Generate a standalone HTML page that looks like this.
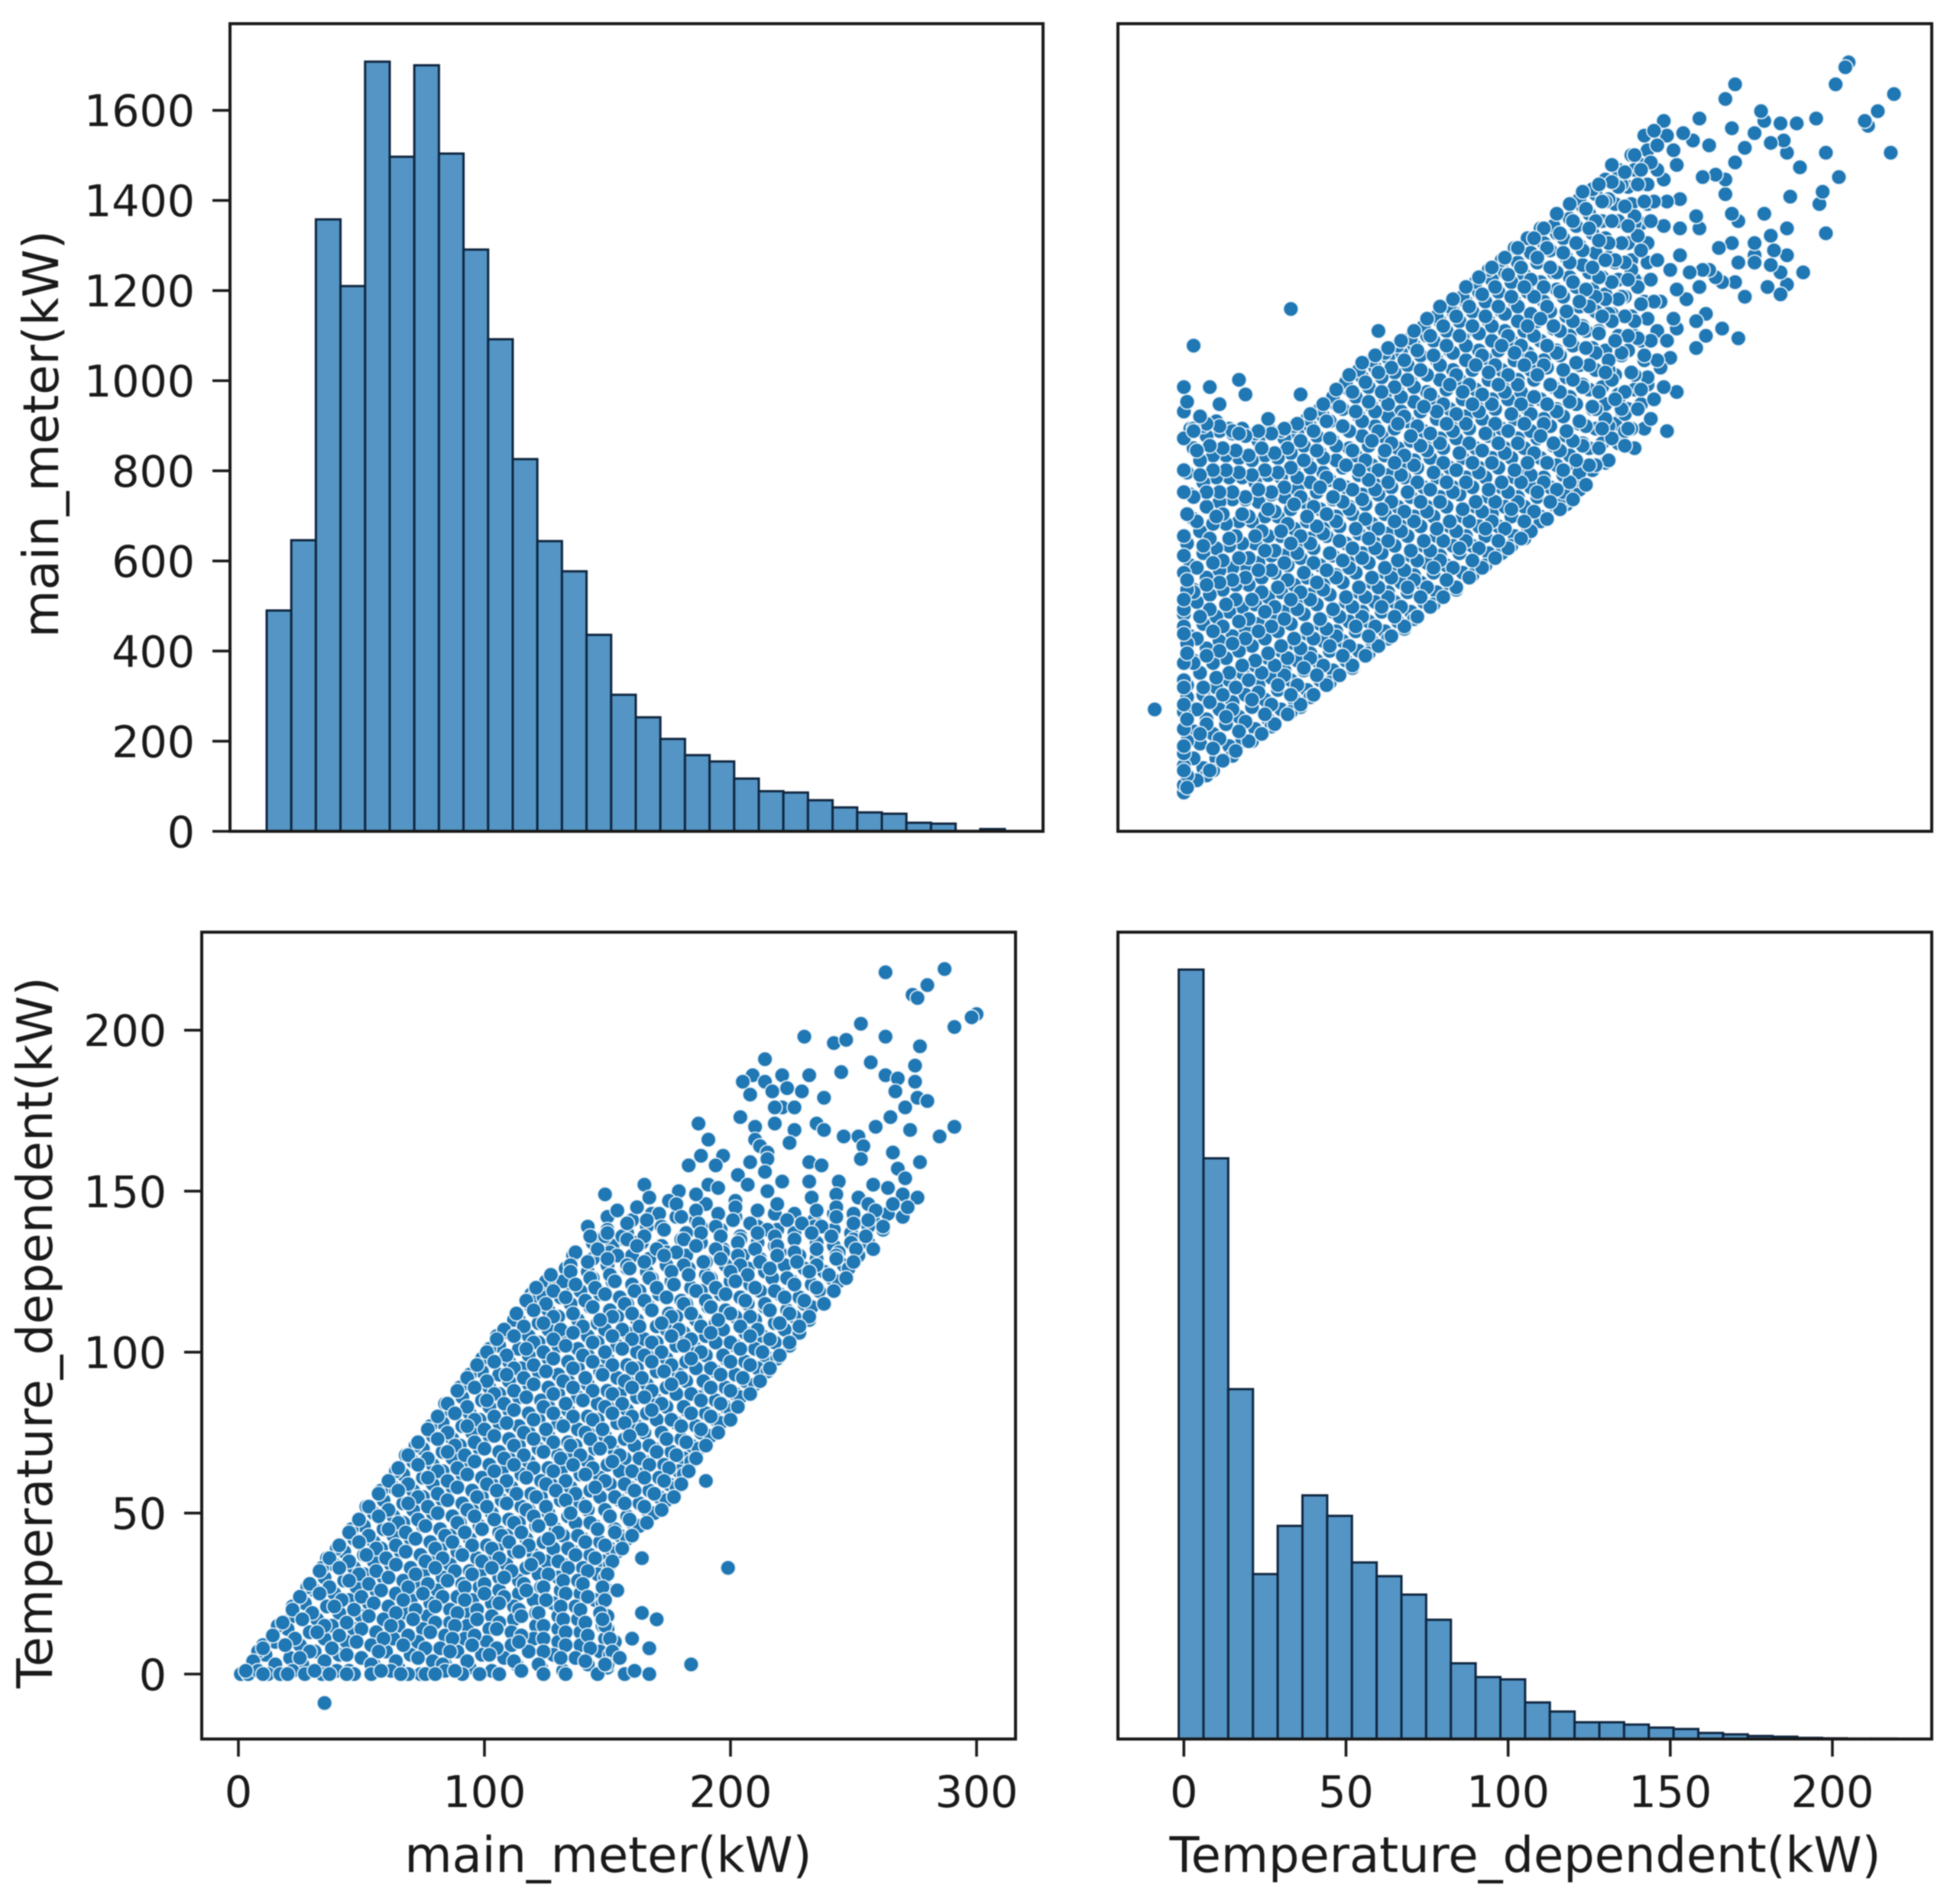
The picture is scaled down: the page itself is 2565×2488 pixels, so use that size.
<!DOCTYPE html>
<html lang="en">
<head>
<meta charset="utf-8">
<title>Pair plot of main_meter and Temperature_dependent</title>
<style>
  html, body { margin: 0; padding: 0; background: #fff; }
  #chart { display: block; width: 2565px; height: 2488px; filter: blur(0.7px); }
  text { font-family: "DejaVu Sans", "Liberation Sans", sans-serif; fill: #1a1a1a; }
</style>
</head>
<body>
<svg id="chart" xmlns="http://www.w3.org/2000/svg" width="2565" height="2488" viewBox="0 0 2565 2488"></svg>
<script>
// Histogram of main_meter(kW)
const mainBinStart = 0;
const mainBinWidth = 10;
const mainCounts = [490,646,1358,1210,1708,1497,1700,1504,1291,1092,826,644,577,436,303,253,205,169,155,117,89,86,69,53,42,39,19,17,1,5];

// Histogram of Temperature_dependent(kW); the y axis is unlabelled, so the count scale is estimated
const tempBinStart = -1.58;
const tempBinWidth = 7.63;
const tempCounts = [3303,2493,1502,708,915,1046,958,758,699,620,512,325,266,256,157,118,72,72,62,49,43,26,20,13,10,5,3,2,2,1];

// Tick labels
const mainTicks = [0,100,200,300];
const tempTicks = [0,50,100,150,200];
const tempTicksY = [0,50,100,150,200];
const countTicks = [0,200,400,600,800,1000,1200,1400,1600];

// Scatter readings: each index is one (main_meter, Temperature_dependent) observation, both in kW
const mainMeter = [
150,160,168,178,186,195,202,210,218,226,234,242,250,258,264,270,
150,158,166,173,182,188,196,204,211,219,226,234,242,249,256,262,
144,152,157,164,172,180,188,197,204,211,218,226,235,242,250,256,
136,144,151,160,167,174,182,190,197,205,212,220,228,235,244,252,
133,142,150,158,166,174,183,190,198,207,214,222,230,238,246,248,
125,135,144,152,160,168,176,184,192,200,208,217,225,233,241,244,
123,131,139,147,155,163,171,180,188,196,204,212,220,228,236,119,
119,126,135,143,151,158,167,175,182,191,198,207,214,223,230,233,
114,122,130,138,146,154,162,170,178,186,194,202,210,218,226,232,
110,118,126,133,142,149,158,165,174,181,190,197,206,213,222,228,
106,114,122,130,138,146,154,162,170,178,186,194,202,210,218,224,
102,110,118,126,134,142,150,158,166,174,182,190,198,206,214,219,
99,106,115,122,130,138,147,154,162,170,179,186,194,202,211,215,
94,102,110,118,126,134,142,150,158,166,174,182,190,198,206,210,
91,99,106,114,123,130,138,146,155,162,170,178,187,194,202,204,
86,94,102,110,118,126,134,142,150,158,166,174,182,190,198,200,
83,91,98,106,114,122,130,138,146,154,162,170,178,186,194,196,
79,87,95,102,110,118,126,134,142,149,157,165,173,180,188,192,
75,83,90,98,106,114,122,130,137,145,153,161,169,176,184,187,
71,79,87,94,102,110,118,126,134,142,150,157,165,173,181,184,
67,75,83,91,99,107,115,123,131,139,147,155,163,171,179,181,
63,71,79,87,95,103,111,119,127,135,143,151,159,167,175,178,
59,67,75,83,91,99,107,115,123,131,139,147,155,163,171,174,
55,63,71,79,87,95,103,110,118,126,134,142,150,158,166,169,
51,59,67,75,82,90,98,106,114,121,129,137,145,153,160,163,
47,55,63,70,78,86,94,101,109,117,124,132,140,147,155,158,
43,51,58,66,74,82,89,97,105,112,120,128,136,143,151,154,
39,47,55,62,70,78,86,94,101,109,117,125,132,140,148,151,
35,43,51,59,67,75,83,91,98,106,114,122,130,138,146,149,
31,39,48,56,64,73,81,89,98,106,114,123,131,139,148,150,
27,36,45,53,61,70,78,86,95,103,112,120,128,137,145,148,
22,32,41,50,59,68,77,86,94,103,112,121,130,138,147,150,
20,29,38,47,56,65,75,84,93,102,111,121,130,139,148,150,
15,25,35,44,54,63,73,82,92,101,111,120,130,139,149,153,
11,21,31,41,50,60,70,79,89,99,108,118,128,137,147,151,
7,16,26,36,45,55,65,74,84,94,103,113,123,132,142,150,
263,287,274,280,276,300,298,291,253,263,230,242,247,277,214,257,
245,275,232,221,209,205,263,268,275,214,223,208,217,229,238,267,
276,280,271,221,226,218,265,204,187,218,210,235,238,259,273,291,
285,226,246,252,210,191,212,224,215,254,266,197,188,208,215,232,
237,253,277,183,194,214,268,203,221,207,232,244,271,165,191,195,
179,258,264,233,243,270,276,149,202,190,252,256,167,175,186,215,
120,124,112,105,129,132,137,142,149,156,162,99,84,68,52,36,
10,16,22,28,34,40,46,58,64,72,78,90,94,102,108,8,
154,162,171,178,186,195,202,211,219,226,235,243,250,259,266,272,
158,166,172,180,187,194,201,208,215,223,229,237,243,250,256,262,
143,150,158,165,173,181,188,196,203,211,218,226,233,241,249,255,
137,146,154,162,170,178,186,194,203,210,219,226,235,243,251,258,
135,142,150,158,165,173,181,189,196,204,212,219,227,235,243,250,
127,135,143,151,159,167,176,183,191,200,207,216,223,232,240,247,
121,128,137,145,153,161,170,177,186,194,202,210,218,226,235,242,
117,125,133,141,149,157,165,174,181,190,198,206,214,222,230,238,
113,120,128,136,144,152,160,168,176,184,192,200,208,216,224,232,
108,116,124,131,140,147,156,163,172,179,188,195,204,211,220,228,
105,112,120,128,136,144,152,160,168,176,184,192,200,208,216,224,
101,109,117,124,133,140,149,156,165,172,181,188,197,204,213,220,
97,104,112,120,128,136,144,152,160,168,176,184,192,200,208,216,
93,101,109,116,125,132,141,148,157,164,173,180,189,196,205,212,
89,96,104,112,120,128,136,144,152,160,168,176,184,192,200,208,
85,93,101,108,117,124,133,140,149,156,165,172,181,188,196,203,
81,88,96,104,112,120,128,136,144,152,160,168,176,184,192,200,
77,85,93,100,109,116,125,132,141,148,157,164,172,180,188,195,
73,81,88,96,104,112,120,128,135,143,151,159,167,174,182,190,
69,77,85,92,100,108,116,124,131,139,147,155,163,170,178,186,
65,73,81,89,96,104,112,120,128,136,144,152,160,167,175,183,
61,69,77,85,93,101,109,117,125,133,141,149,157,165,173,180,
57,65,73,81,89,97,105,113,121,129,137,145,153,161,169,177,
53,61,69,77,85,93,101,109,117,125,133,141,149,157,165,172,
49,57,65,73,81,89,96,104,112,120,127,135,143,151,159,166,
45,53,61,68,76,84,92,99,107,115,122,130,138,146,153,160,
41,49,56,64,72,80,87,95,103,110,118,126,134,141,149,156,
37,45,52,60,68,76,83,91,99,106,114,122,130,137,145,152,
33,41,49,56,64,72,80,88,95,103,111,119,126,134,142,150,
29,37,45,53,61,69,77,85,92,100,108,116,124,132,140,148,
25,33,42,50,58,67,75,83,92,100,108,117,125,133,142,149,
22,30,39,47,55,64,72,80,89,97,106,114,122,131,139,147,
18,26,35,44,53,62,71,80,88,97,106,115,124,132,141,149,
14,23,32,41,50,59,69,78,87,96,105,115,124,133,142,151,
10,19,29,38,48,57,67,76,86,95,105,114,124,133,143,152,
6,15,25,35,44,54,64,73,83,93,102,112,122,131,141,150,
1,4,8,12,17,22,27,34,40,47,54,62,69,76,84,91,
3,10,20,31,37,44,58,66,80,88,98,106,115,124,133,146,
157,161,167,170,155,160,167,164,148,149,184,199,154,164,190,35
];
const temperatureDependent = [
142,141,143,142,141,143,142,140,143,142,141,143,142,141,143,142,
138,137,139,138,137,139,138,136,139,138,137,139,138,137,139,138,
134,133,135,134,133,135,134,132,135,134,133,135,134,133,135,134,
130,129,131,130,129,131,130,128,131,130,129,131,130,129,131,130,
126,125,127,126,125,127,126,124,127,126,125,127,126,125,127,126,
122,121,123,122,121,123,122,120,123,122,121,123,122,121,123,122,
118,117,119,118,117,119,118,116,119,118,117,119,118,117,119,118,
114,113,115,114,113,115,114,112,115,114,113,115,114,113,115,114,
110,109,111,110,109,111,110,108,111,110,109,111,110,109,111,110,
106,105,107,106,105,107,106,104,107,106,105,107,106,105,107,106,
102,101,103,102,101,103,102,100,103,102,101,103,102,101,103,102,
98,97,99,98,97,99,98,96,99,98,97,99,98,97,99,98,
94,93,95,94,93,95,94,92,95,94,93,95,94,93,95,94,
90,89,91,90,89,91,90,88,91,90,89,91,90,89,91,90,
86,85,87,86,85,87,86,84,87,86,85,87,86,85,87,86,
82,81,83,82,81,83,82,80,83,82,81,83,82,81,83,82,
78,77,79,78,77,79,78,76,79,78,77,79,78,77,79,78,
74,73,75,74,73,75,74,72,75,74,73,75,74,73,75,74,
70,69,71,70,69,71,70,68,71,70,69,71,70,69,71,70,
66,65,67,66,65,67,66,64,67,66,65,67,66,65,67,66,
62,61,63,62,61,63,62,60,63,62,61,63,62,61,63,62,
58,57,59,58,57,59,58,56,59,58,57,59,58,57,59,58,
54,53,55,54,53,55,54,52,55,54,53,55,54,53,55,54,
50,49,51,50,49,51,50,48,51,50,49,51,50,49,51,50,
46,45,47,46,45,47,46,44,47,46,45,47,46,45,47,46,
42,41,43,42,41,43,42,40,43,42,41,43,42,41,43,42,
38,37,39,38,37,39,38,36,39,38,37,39,38,37,39,38,
34,33,35,34,33,35,34,32,35,34,33,35,34,33,35,34,
30,29,31,30,29,31,30,28,31,30,29,31,30,29,31,30,
26,25,27,26,25,27,26,24,27,26,25,27,26,25,27,26,
22,21,23,22,21,23,22,20,23,22,21,23,22,21,23,22,
18,17,19,18,17,19,18,16,19,18,17,19,18,17,19,18,
14,13,15,14,13,15,14,12,15,14,13,15,14,13,15,14,
10,9,11,10,9,11,10,8,11,10,9,11,10,9,11,10,
6,5,7,6,5,7,6,4,7,6,5,7,6,5,7,6,
2,1,3,2,1,3,2,0,3,2,1,3,2,1,3,2,
218,219,211,214,210,205,204,201,202,198,198,196,197,195,191,190,
187,189,186,186,186,184,186,185,184,184,182,180,181,181,179,181,
179,178,176,176,176,176,173,173,171,171,170,171,169,170,169,170,
167,169,167,167,166,166,164,165,162,164,162,161,161,159,160,159,
158,160,159,158,158,156,157,155,153,152,153,153,154,152,152,151,
150,152,151,148,149,149,148,149,147,146,148,146,148,147,149,150,
117,117,110,105,121,122,131,139,136,136,134,98,84,68,52,36,
9,15,21,27,33,39,45,57,63,71,77,89,93,101,107,7,
144,145,143,146,144,143,145,144,146,143,144,145,143,144,146,145,
140,141,139,142,140,139,141,140,138,141,140,139,142,140,141,139,
136,137,135,136,138,135,137,136,134,137,136,135,137,136,134,136,
131,132,130,133,132,131,133,132,130,132,133,131,132,130,132,132,
127,128,129,127,128,130,127,128,129,127,128,130,128,127,129,128,
124,125,123,124,126,123,125,124,123,125,124,126,123,125,124,123,
120,119,121,120,122,119,120,121,119,120,122,120,119,121,120,119,
116,115,117,116,118,115,116,117,115,116,118,116,115,117,116,115,
112,113,111,112,114,111,112,113,111,112,114,112,111,113,112,111,
107,108,109,107,108,110,107,108,109,107,108,110,108,107,109,108,
104,105,103,104,106,103,105,104,103,105,104,106,103,105,104,103,
100,99,101,100,102,99,100,101,99,100,102,100,99,101,100,99,
96,97,95,96,98,95,97,96,95,97,96,98,95,97,96,95,
92,91,93,92,94,91,92,93,91,92,94,92,91,93,92,91,
88,89,87,88,90,87,89,88,87,89,88,90,87,89,88,87,
84,83,85,84,86,83,84,85,83,84,86,84,83,85,84,83,
80,81,79,80,82,79,81,80,79,81,80,82,79,81,80,79,
76,75,77,76,78,75,76,77,75,76,78,76,75,77,76,75,
72,73,71,72,74,71,73,72,71,73,72,74,71,73,72,71,
68,67,69,68,70,67,68,69,67,68,70,68,67,69,68,67,
64,65,63,64,66,63,65,64,63,65,64,66,63,65,64,63,
60,59,61,60,62,59,60,61,59,60,62,60,59,61,60,59,
56,57,55,56,58,55,57,56,55,57,56,58,55,57,56,55,
52,51,53,52,54,51,52,53,51,52,54,52,51,53,52,51,
48,49,47,48,50,47,49,48,47,49,48,50,47,49,48,47,
44,43,45,44,46,43,44,45,43,44,46,44,43,45,44,43,
40,41,39,40,42,39,41,40,39,41,40,42,39,41,40,39,
36,35,37,36,38,35,36,37,35,36,38,36,35,37,36,35,
32,33,31,32,34,31,33,32,31,33,32,34,31,33,32,31,
28,27,29,28,30,27,28,29,27,28,30,28,27,29,28,27,
24,25,23,24,26,23,25,24,23,25,24,26,23,25,24,23,
20,19,21,20,22,19,20,21,19,20,22,20,19,21,20,19,
16,17,15,16,18,15,17,16,15,17,16,18,15,17,16,15,
12,11,13,12,14,11,12,13,11,12,14,12,11,13,12,11,
8,9,7,8,10,7,9,8,7,9,8,10,7,9,8,7,
4,3,5,4,6,3,4,5,3,4,6,4,3,5,4,3,
0,0,1,0,0,1,0,0,1,0,0,1,0,0,1,0,
1,0,0,1,0,0,1,0,0,1,0,0,1,0,0,0,
0,1,0,17,5,11,8,19,17,3,3,33,26,36,60,-9
];

const SVG_NS = 'http://www.w3.org/2000/svg';
const svg = document.getElementById('chart');

function linear(d0, d1, r0, r1) {
  return function (v) { return r0 + (v - d0) * (r1 - r0) / (d1 - d0); };
}

// Axis functions for each panel
const topLeftX = linear(0, 300, 349, 1315);
const topLeftY = linear(0, 1600, 1088, 144.4);
const topRightX = linear(0, 200, 1549.3, 2398);
const topRightY = linear(0, 300, 1040.4, 81.6);
const bottomLeftX = linear(0, 300, 312, 1278);
const bottomLeftY = linear(0, 200, 2191, 1348.3);
const bottomRightX = linear(0, 200, 1549.3, 2398);
const bottomRightY = linear(0, 3303, 2276, 1269);

function make(tag, props) {
  const el = document.createElementNS(SVG_NS, tag);
  for (const key in props) { el.setAttribute(key, props[key]); }
  svg.appendChild(el);
  return el;
}

function drawHistogram(counts, start, width, xFn, yFn, name) {
  counts.forEach(function (count, i) {
    const x0 = xFn(start + i * width);
    const x1 = xFn(start + (i + 1) * width);
    const top = yFn(count);
    const base = yFn(0);
    const bar = make('rect', { x: x0, y: top, width: x1 - x0, height: base - top, fill: '#5495c5', stroke: '#10263f', 'stroke-width': 3 });
    
    
  });
}

function drawScatter(xs, ys, xFn, yFn, name) {
  xs.forEach(function (xv, i) {
    const dot = make('circle', { cx: xFn(xv), cy: yFn(ys[i]), r: 9.8, fill: '#1f77b4', stroke: '#eef4f8', 'stroke-width': 1.6 });
    
    
  });
}

function drawSpines(x, y, w, h, name) {
  const frame = make('rect', { x: x, y: y, width: w, height: h, fill: 'none', stroke: '#1a1a1a', 'stroke-width': 4 });
  
  
}

function drawXTicks(ticks, xFn, axisY, name) {
  ticks.forEach(function (tick) {
    const x = xFn(tick);
    const mark = make('line', { x1: x, x2: x, y1: axisY, y2: axisY + 23, stroke: '#1a1a1a', 'stroke-width': 3.6 });
    
    
    const label = make('text', { x: x, y: axisY + 89, 'text-anchor': 'middle', 'font-size': 57 });
    label.textContent = String(tick);
    
    
  });
}

function drawYTicks(ticks, yFn, axisX, name) {
  ticks.forEach(function (tick) {
    const y = yFn(tick);
    const mark = make('line', { x1: axisX - 23, x2: axisX, y1: y, y2: y, stroke: '#1a1a1a', 'stroke-width': 3.6 });
    
    
    const label = make('text', { x: axisX - 46, y: y + 20.8, 'text-anchor': 'end', 'font-size': 57 });
    label.textContent = String(tick);
    
    
  });
}

// Top-left: histogram of main_meter
drawHistogram(mainCounts, mainBinStart, mainBinWidth, topLeftX, topLeftY, 'main-meter-histogram');
drawSpines(301, 31, 1064, 1057, 'top-left-panel');
drawYTicks(countTicks, topLeftY, 301, 'count-y-axis');

// Top-right: Temperature_dependent against main_meter
drawScatter(temperatureDependent, mainMeter, topRightX, topRightY, 'top-right-scatter');
drawSpines(1463, 31, 1065, 1057, 'top-right-panel');

// Bottom-left: main_meter against Temperature_dependent
drawScatter(mainMeter, temperatureDependent, bottomLeftX, bottomLeftY, 'bottom-left-scatter');
drawSpines(264, 1220, 1065, 1056, 'bottom-left-panel');
drawXTicks(mainTicks, bottomLeftX, 2276, 'main-meter-x-axis');
drawYTicks(tempTicksY, bottomLeftY, 264, 'temperature-y-axis');

// Bottom-right: histogram of Temperature_dependent
drawHistogram(tempCounts, tempBinStart, tempBinWidth, bottomRightX, bottomRightY, 'temperature-histogram');
drawSpines(1463, 1220, 1065, 1056, 'bottom-right-panel');
drawXTicks(tempTicks, bottomRightX, 2276, 'temperature-x-axis');

// Axis titles
const titleMainX = make('text', { x: 796, y: 2450, 'text-anchor': 'middle', 'font-size': 63.8 });
titleMainX.textContent = 'main_meter(kW)';



const titleTempX = make('text', { x: 1996, y: 2450, 'text-anchor': 'middle', 'font-size': 63.8 });
titleTempX.textContent = 'Temperature_dependent(kW)';



const titleMainY = make('text', { x: 0, y: 0, 'text-anchor': 'middle', 'font-size': 63.8, transform: 'translate(76 568) rotate(-90)' });
titleMainY.textContent = 'main_meter(kW)';



const titleTempY = make('text', { x: 0, y: 0, 'text-anchor': 'middle', 'font-size': 63.8, transform: 'translate(68 1744) rotate(-90)' });
titleTempY.textContent = 'Temperature_dependent(kW)';


</script>
</body>
</html>
